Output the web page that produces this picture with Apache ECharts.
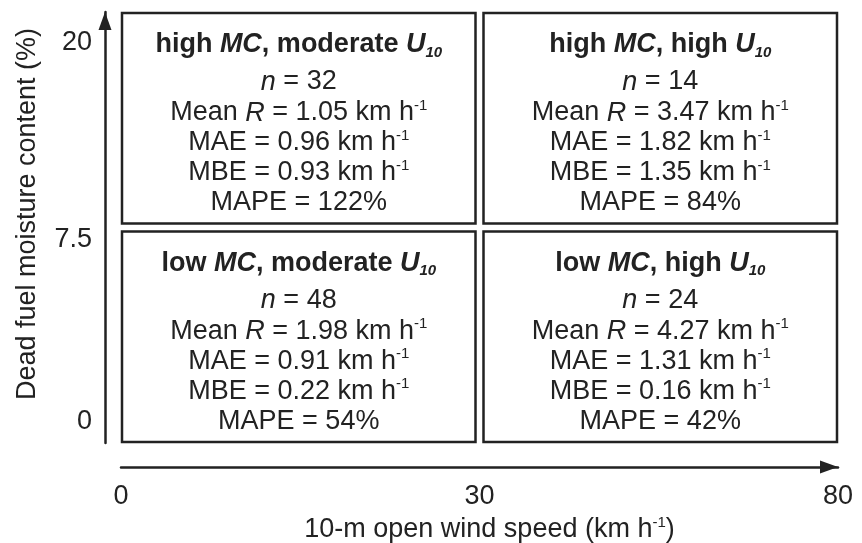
<!DOCTYPE html>
<html><head><meta charset="utf-8">
<script src="https://cdn.jsdelivr.net/npm/echarts@6/dist/echarts.min.js"></script>
<style>html,body{margin:0;padding:0;background:#fff}#c{width:862px;height:543px}</style>
</head><body><div id="c"></div>
<script>
// ---- data ----
const xTickLabels = ['0', '30', '80'];
const yTickLabels = ['0', '7.5', '20'];
const xAxisTitle = '10-m open wind speed (km h';
const yAxisTitle = 'Dead fuel moisture content (%)';
const cellCol = [0, 1, 0, 1];
const cellRow = [1, 1, 0, 0];
const cellMC = ['high', 'high', 'low', 'low'];
const cellU10 = ['moderate', 'high', 'moderate', 'high'];
const cellN = [32, 14, 48, 24];
const cellMeanR = ['1.05', '3.47', '1.98', '4.27'];
const cellMAE = ['0.96', '1.82', '0.91', '1.31'];
const cellMBE = ['0.93', '1.35', '0.22', '0.16'];
const cellMAPE = [122, 84, 54, 42];

const FONT = "'Liberation Sans', Arial, Helvetica, sans-serif";
const INK = '#222';
const FS = 27;
const chart = echarts.init(document.getElementById('c'));

const richBody = {
  it: { fontStyle: 'italic', fontSize: FS, fontFamily: FONT, fill: INK, lineHeight: 30 },
  sup: { fontSize: 15, fontFamily: FONT, fill: INK, verticalAlign: 'top', lineHeight: 17 }
};
const richTitle = {
  b: { fontWeight: 'bold', fontSize: FS, fontFamily: FONT, fill: INK, lineHeight: 30 },
  bi: { fontWeight: 'bold', fontStyle: 'italic', fontSize: FS, fontFamily: FONT, fill: INK, lineHeight: 30 },
  sub: { fontWeight: 'bold', fontStyle: 'italic', fontSize: 15, fontFamily: FONT, fill: INK, verticalAlign: 'bottom', lineHeight: 16 }
};

function renderItem(params, api) {
  const c = api.value(0), r = api.value(1), i = api.value(2);
  const tl = api.coord([c, r + 1]);
  const br = api.coord([c + 1, r]);
  const gap = 4;
  const x0 = tl[0] + (c > 0 ? gap : 1);
  const x1 = br[0] - (c + 1 < 2 ? gap : 1);
  const y0 = tl[1] + (r + 1 < 2 ? gap : 1);
  const y1 = br[1] - (r > 0 ? gap : 1);
  const cx = (x0 + x1) / 2;
  const ty = y0 + 32;
  const lines = [
    { t: '{b|' + cellMC[i] + ' }{bi|MC}{b|, ' + cellU10[i] + ' }{bi|U}{sub|10}', rich: richTitle, y: ty },
    { t: '{it|n} = ' + cellN[i], rich: richBody, y: ty + 37 },
    { t: 'Mean {it|R} = ' + cellMeanR[i] + ' km h{sup|-1}', rich: richBody, y: ty + 68 },
    { t: 'MAE = ' + cellMAE[i] + ' km h{sup|-1}', rich: richBody, y: ty + 98 },
    { t: 'MBE = ' + cellMBE[i] + ' km h{sup|-1}', rich: richBody, y: ty + 128 },
    { t: 'MAPE = ' + cellMAPE[i] + '%', rich: richBody, y: ty + 158 }
  ];
  const children = [{
    type: 'rect',
    shape: { x: x0, y: y0, width: x1 - x0, height: y1 - y0 },
    style: { fill: '#fff', stroke: INK, lineWidth: 2.5 }
  }];
  lines.forEach(function (L) {
    children.push({
      type: 'text',
      x: cx, y: L.y,
      style: {
        text: L.t, rich: L.rich, align: 'center', verticalAlign: 'middle',
        fontSize: FS, fontFamily: FONT, fill: INK, lineHeight: 30
      }
    });
  });
  return { type: 'group', children: children };
}

const axisLineStyle = { color: INK, width: 2.5 };

chart.setOption({
  backgroundColor: '#fff',
  animation: false,
  grid: { left: 121, right: 24, top: 12, bottom: 100, containLabel: false, outerBoundsMode: 'none' },
  xAxis: {
    type: 'value', min: 0, max: 2, interval: 1, position: 'bottom', offset: 24,
    axisLine: { show: true, onZero: false, lineStyle: axisLineStyle, symbol: ['none', 'triangle'], symbolSize: [13, 18], symbolOffset: [0, -9] },
    axisTick: { show: false }, splitLine: { show: false },
    axisLabel: {
      margin: 16, fontSize: FS, fontFamily: FONT, color: INK,
      formatter: function (v) { return xTickLabels[Math.round(v)]; }
    },
    name: '{a|' + xAxisTitle + '}{s|-1}{a|)}',
    nameLocation: 'middle', nameGap: 47,
    nameTextStyle: {
      padding: [0, 0, 0, 20],
      rich: {
        a: { fontSize: FS, fontFamily: FONT, color: INK, lineHeight: 30 },
        s: { fontSize: 15, fontFamily: FONT, color: INK, verticalAlign: 'top', lineHeight: 17 }
      }
    }
  },
  yAxis: {
    type: 'value', min: 0, max: 2, interval: 1, position: 'left', offset: 16,
    axisLine: { show: true, onZero: false, lineStyle: axisLineStyle, symbol: ['none', 'triangle'], symbolSize: [13, 18], symbolOffset: [0, -9] },
    axisTick: { show: false }, splitLine: { show: false },
    axisLabel: {
      margin: 13, fontSize: FS, fontFamily: FONT, color: INK,
      formatter: function (v) {
        const k = Math.round(v);
        return '{l' + k + '|' + yTickLabels[k] + '}';
      },
      rich: {
        l0: { fontSize: FS, fontFamily: FONT, color: INK, padding: [0, 0, 42, 0] },
        l1: { fontSize: FS, fontFamily: FONT, color: INK, padding: [24, 0, 0, 0] },
        l2: { fontSize: FS, fontFamily: FONT, color: INK, padding: [61, 0, 0, 0] }
      }
    },
    name: yAxisTitle, nameLocation: 'middle', nameGap: 64, nameRotate: 90,
    nameTextStyle: { fontSize: FS, fontFamily: FONT, color: INK, padding: [0, 0, 0, 27] }
  },
  series: [{
    type: 'custom',
    renderItem: renderItem,
    data: cellCol.map(function (c, i) { return [c, cellRow[i], i]; }),
    clip: false
  }]
});
</script></body></html>
